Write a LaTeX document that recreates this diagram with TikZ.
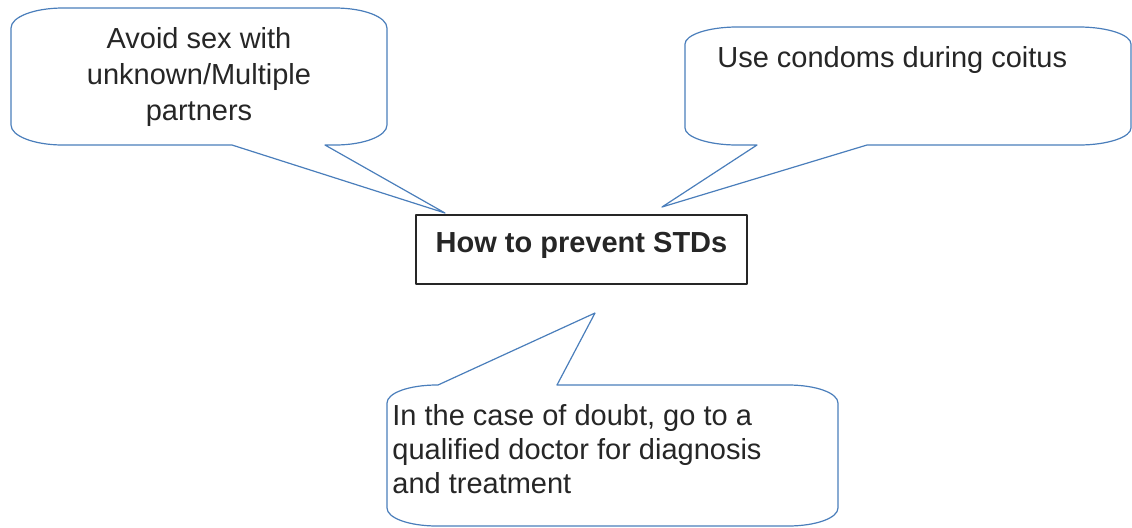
\documentclass[tikz,border=0pt]{standalone}
\usepackage{fontspec}
\setmainfont{Liberation Sans}
\definecolor{calloutblue}{RGB}{74,126,187}
\definecolor{inkgray}{RGB}{38,38,38}
\tikzset{
  callout/.style={draw=calloutblue, line width=0.6pt, fill=white},
  calltext/.style={text=inkgray, inner sep=0pt, font=\fontsize{14.5}{18}\selectfont},
}
\begin{document}
\begin{tikzpicture}[x=0.5pt, y=-0.5pt, line join=round, line cap=round]
			\useasboundingbox (0,0) rectangle (1132,527);
			
			% 1. Khung giữa
			\node[draw=inkgray, line width=1pt, minimum width=165.5pt, minimum height=34.5pt,
			      inner sep=0pt, text=inkgray, font=\fontsize{14.5}{18}\selectfont\bfseries,
			      text height=10.4pt, text depth=7.9pt] (prevent) at (581.5,249.5) {How to prevent STDs};
			
			% 2. Bóng nói trái trên
			\draw[callout] 
			(63,8) -- (335,8) .. controls (364,8) and (387,17) .. (387,28) % Góc phải trên
			-- (387,125) .. controls (387,136) and (364,145) .. (335,145)
			-- (325,145) -- (445,213) -- (232,145) % Mũi nhọn
			-- (63,145) .. controls (34,145) and (11,136) .. (11,125)
			-- (11,28) .. controls (11,17) and (34,8) .. (63,8) -- cycle;
			\node[calltext, align=center, anchor=base] (avoid) at (199,120)
			  {Avoid sex with\\unknown/Multiple\\partners};
			
			% 3. Bóng nói phải trên
			\draw[callout] 
			(737,27) -- (1079,27) .. controls (1108,27) and (1131,35) .. (1131,44)
			-- (1131,128) .. controls (1131,137) and (1108,145) .. (1079,145)
			-- (867,145) -- (662,207) -- (757,145) % Mũi nhọn
			-- (737,145) .. controls (708,145) and (685,137) .. (685,128)
			-- (685,44) .. controls (685,35) and (708,27) .. (737,27) -- cycle;
			\node[calltext, anchor=base west] (condoms) at (717,67) {Use condoms during coitus};
			
			% 4. Bóng nói dưới
			\draw[callout] 
			(437,385) -- (438,385) -- (595,313) -- (557,385) % Mũi nhọn
			-- (788,385) .. controls (816,385) and (838,393) .. (838,403)
			-- (838,508) .. controls (838,518) and (816,526) .. (788,526)
			-- (437,526) .. controls (409,526) and (387,518) .. (387,508)
			-- (387,403) .. controls (387,393) and (409,385) .. (437,385) -- cycle;
			\node[calltext, align=left, anchor=base west, font=\fontsize{14.5}{17}\selectfont] (doubt) at (392,493)
			  {In the case of doubt, go to a\\qualified doctor for diagnosis\\and treatment};
		\end{tikzpicture}
\end{document}
